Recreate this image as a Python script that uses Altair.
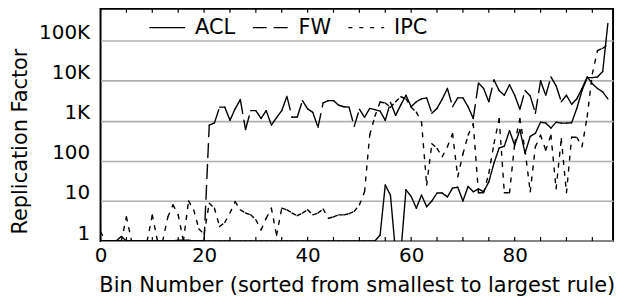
import altair as alt
import pandas as pd

# ---------------- data ----------------
bins = list(range(99))

acl = [1, 1, 1, 1, 1.3, 1, 1, 1, 1, 1,
       1, 1, 1, 1, 1, 1.05, 1.05, 1.05, 1, 1,
       1, 1, 1, 1, 1, 1, 1, 1, 1, 1,
       1, 1, 1, 1, 1, 1, 1, 1, 1, 1,
       1, 1, 1, 1, 1, 1, 1, 1, 1, 1,
       1, 1, 1, 1, 1.4, 25, 14, 0.5, 0.5, 19,
       13, 6.6, 14, 7.2, 10, 15.8, 15.8, 12.6, 21, 22,
       10, 23, 17, 20, 17, 30, 88, 210, 233, 570,
       245, 600, 156, 410, 490, 925, 880, 660, 925, 880,
       880, 900, 2050, 5700, 12000, 12000, 12500, 17000, 270000]

fw = [1, 1, 1, 1, 1, 1, 1, 1, 1, 1,
      1, 1, 1, 1, 1, 1, 1, 1, 1, 1,
      1, 780, 890, 2200, 2200, 1030, 2000, 3400, 610, 1800,
      1800, 1150, 1800, 780, 1200, 1800, 4100, 1230, 1250, 3200,
      2000, 1630, 690, 2800, 3200, 3200, 2450, 2250, 2200, 730,
      1950, 1230, 2050, 1900, 1750, 1030, 2900, 1370, 2500, 4350,
      2250, 3000, 3550, 3750, 1550, 2050, 3500, 6430, 2250, 3750,
      3750, 2250, 1150, 8800, 6430, 3000, 10500, 5700, 4350, 8000,
      4350, 1950, 5700, 4200, 1550, 10000, 4350, 12500, 7500, 3000,
      4350, 2600, 3550, 6430, 12500, 8500, 6430, 5300, 3550]

ipc = [1.7, 1, 1, 1, 1, 4, 1, 1, 1, 1,
       4.5, 1, 1, 4, 8, 4.5, 1, 10, 6, 2,
       1.5, 8.8, 6.6, 2.3, 2.9, 5, 9.6, 6, 5, 4.5,
       3.4, 1.9, 3.7, 6.6, 1.4, 6.6, 6, 5, 4.3, 5,
       6, 4.5, 5, 6.3, 3.7, 4, 4.5, 4.5, 4.8, 5.5,
       8, 17, 450, 1300, 2950, 2800, 2200, 3000, 4000, 3550,
       2200, 1650, 940, 25, 270, 205, 127, 225, 480, 40,
       150, 440, 850, 16, 16, 49, 270, 1140, 16, 16,
       270, 1140, 185, 17, 225, 440, 185, 440, 20, 360,
       16, 390, 390, 225, 1250, 15000, 57000, 65000, 80000]

series_names = ["ACL", "FW", "IPC"]
series_values = [acl, fw, ipc]
dash_patterns = [[1, 0], [14, 7], [4, 7]]

y_ticks = [1, 10, 100, 1000, 10000, 100000]
x_labels = [0, 20, 40, 60, 80]
x_minor = list(range(0, 100, 5))

# ---------------- build tables ----------------
rows = []
for name, vals in zip(series_names, series_values):
    for i in range(len(vals) - 1):
        seg = f"{name}-{i}"
        rows.append({"series": name, "seg": seg, "bin": bins[i], "val": vals[i]})
        rows.append({"series": name, "seg": seg, "bin": bins[i + 1], "val": vals[i + 1]})
df = pd.DataFrame(rows)
ticks_df = pd.DataFrame({"t": x_minor})

W = 515
H = 233.45
FONT = "DejaVu Sans"

xscale = alt.Scale(domain=[0, 99], nice=False, zero=False)
yscale = alt.Scale(type="log", domain=[1, 10 ** 5.8], nice=False)

lines = alt.Chart(df).mark_line(
    color="black", strokeWidth=1.4, clip=True, strokeCap="round", strokeJoin="round"
).encode(
    x=alt.X("bin:Q", scale=xscale,
            axis=alt.Axis(values=x_labels, grid=False, ticks=False, domain=False,
                          labelFont=FONT, labelFontSize=20, labelColor="black",
                          labelPadding=5, labelFlush=False,
                          title="Bin Number (sorted from smallest to largest rule)",
                          titleFont=FONT, titleFontSize=21, titleFontWeight="normal",
                          titleColor="black", titleBaseline="middle", titleY=44.5)),
    y=alt.Y("val:Q", scale=yscale,
            axis=alt.Axis(values=y_ticks, grid=True, gridColor="#b0b0b0", gridWidth=1.6,
                          ticks=False, domain=False,
                          labelExpr="datum.value >= 1000 ? format(datum.value/1000, 'd') + 'K' : format(datum.value, 'd')",
                          labelFont=FONT, labelFontSize=20, labelColor="black",
                          labelPadding=11, labelBaseline="alphabetic", labelOffset=-2,
                          title="Replication Factor", titleFont=FONT, titleFontSize=21,
                          titleFontWeight="normal", titleColor="black",
                          titleAngle=270, titleAlign="center", titleBaseline="middle",
                          titleX=-80, titleY=133)),
    strokeDash=alt.StrokeDash(
        "series:N",
        scale=alt.Scale(domain=series_names, range=dash_patterns),
        legend=alt.Legend(orient="none", legendX=48, legendY=0, direction="horizontal",
                          title=None, symbolType="stroke", symbolSize=1296,
                          symbolStrokeWidth=1.4, symbolStrokeColor="black",
                          labelFont=FONT, labelFontSize=21, labelColor="black",
                          labelOffset=9, columnPadding=14, padding=0),
    ),
    detail="seg:N",
)

ticks_bottom = alt.Chart(ticks_df).mark_rule(color="black", strokeWidth=1.2).encode(
    x=alt.X("t:Q", scale=xscale), y=alt.value(H), y2=alt.value(H - 4)
)
ticks_top = alt.Chart(ticks_df).mark_rule(color="black", strokeWidth=1.2).encode(
    x=alt.X("t:Q", scale=xscale), y=alt.value(0), y2=alt.value(4)
)

chart = alt.layer(lines, ticks_bottom, ticks_top).properties(
    width=W, height=H,
    autosize=alt.AutoSizeParams(type="none"),
    padding={"left": 93, "top": 0, "right": 10, "bottom": 62},
).configure(background="white").configure_view(stroke="black", strokeWidth=2)

chart.save("out.html", embed_options={"renderer": "svg", "actions": False})
